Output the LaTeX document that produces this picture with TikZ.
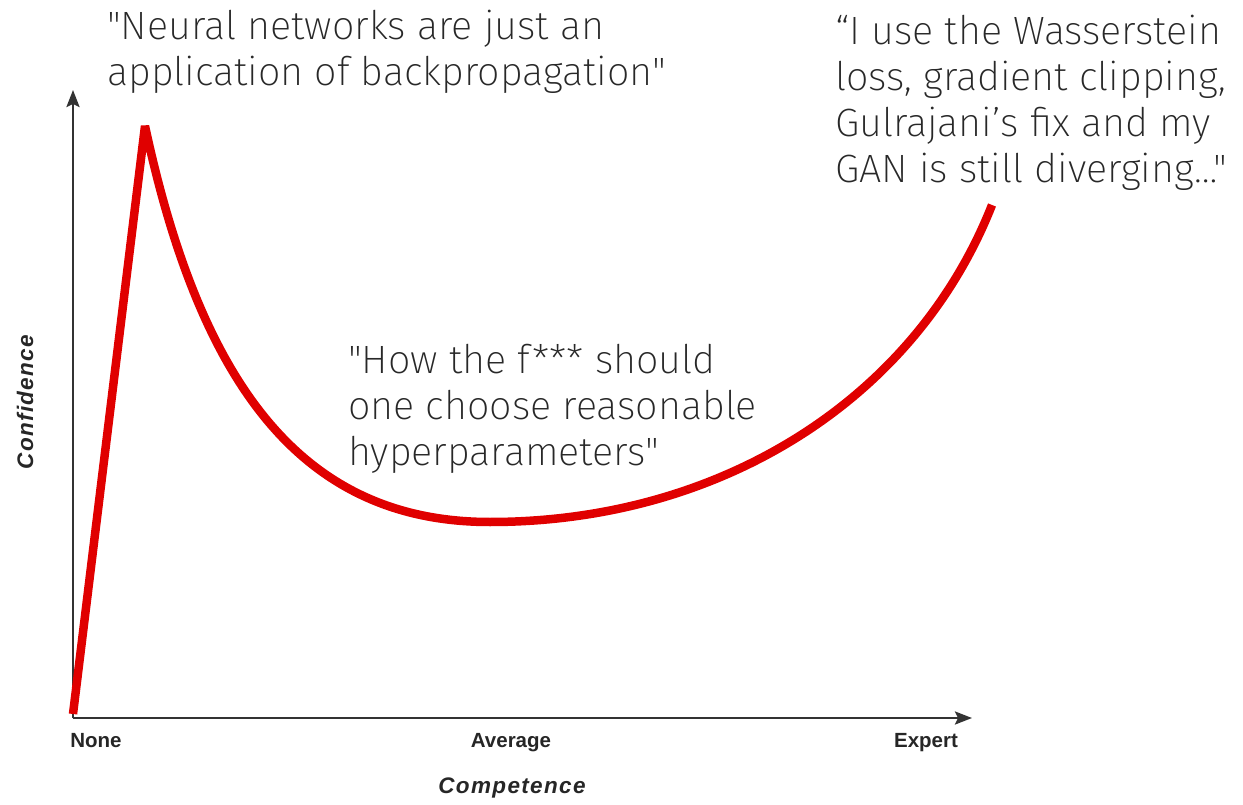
\documentclass[tikz,border=0pt]{standalone}
\usepackage{fontspec}
\setmainfont{Liberation Sans}
\newfontfamily\quotefont{Fira Sans}[UprightFont={* ExtraLight}]
\newfontfamily\titlefont{Liberation Sans}[LetterSpace=6]
\usetikzlibrary{arrows.meta}
\definecolor{curvered}{RGB}{224,0,0}
\definecolor{quotegrey}{RGB}{40,40,40}
\tikzstyle{quotetext}=[anchor=base west, inner sep=0pt, align=left, text=quotegrey,
    font=\quotefont\fontsize{39.5}{46}\selectfont]
\tikzstyle{ticklabel}=[anchor=base, inner sep=0pt, text=black!85,
    font=\bfseries\fontsize{20.5}{24}\selectfont]
\tikzstyle{axistitle}=[anchor=base, inner sep=0pt, text=black!85,
    font=\titlefont\bfseries\itshape\fontsize{22.5}{26}\selectfont]
\tikzstyle{axisline}=[draw=black!80, line width=2.5pt,
    -{Stealth[length=17pt, width=13pt, inset=3pt]}]
\newcommand{\quotenode}{\node[quotetext]}

\begin{document}
\begin{tikzpicture}[x=1pt, y=-1pt]
\useasboundingbox (0,0) rectangle (1243,805);
\coordinate (origin) at (73,718);
\coordinate (ytip) at (73,90);
\coordinate (xtip) at (972,718);
\coordinate (start) at (73,714);
\coordinate (peak) at (145,126);
\coordinate (dip) at (490,522);
\coordinate (end) at (992,205);

\draw[axisline] (origin) -- (ytip);
\draw[axisline] (origin) -- (xtip);

% the confidence curve
\draw[curvered, line width=8.5pt, line join=bevel]
    (start) -- (peak)
    .. controls (200,382) and (300,522) .. (dip)
    .. controls (720,522) and (915,400) .. (end);

\node[ticklabel] (none) at (96,747) {None};
\node[ticklabel] (average) at (511,747) {Average};
\node[ticklabel] (expert) at (926,747) {Expert};
\node[axistitle] (competence) at (512,793) {Competence};
\node[axistitle, rotate=90] (confidence) at (33,402) {Confidence};

% quotes, placed by the baseline of their last line
\quotenode (backprop) at (107,86) {"Neural networks are just an\\application of backpropagation"};
\quotenode (hyper) at (348,465) {"How the f*** should\\one choose reasonable\\hyperparameters"};
\quotenode (wgan) at (835,183) {“I use the Wasserstein\\loss, gradient clipping,\\Gulrajani’s fix and my\\GAN is still diverging…"};
\end{tikzpicture}
\end{document}
